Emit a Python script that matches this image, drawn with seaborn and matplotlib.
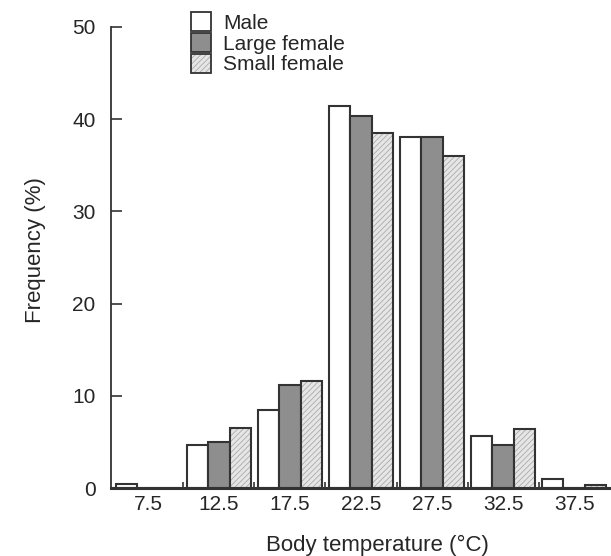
import numpy as np
import pandas as pd
import seaborn as sns
import matplotlib.pyplot as plt
from matplotlib.patches import Patch, Rectangle
from matplotlib.legend_handler import HandlerTuple

temps = ['7.5', '12.5', '17.5', '22.5', '27.5', '32.5', '37.5']
male = [0.4, 4.7, 8.5, 41.4, 38.1, 5.6, 1.0]
large_female = [0.0, 5.0, 11.2, 40.4, 38.1, 4.7, 0.0]
small_female = [0.0, 6.5, 11.6, 38.5, 36.0, 6.4, 0.3]
groups = ['Male', 'Large female', 'Small female']

df = pd.DataFrame({
    'temp': temps * 3,
    'freq': male + large_female + small_female,
    'group': np.repeat(groups, len(temps)),
})

sns.set_style('ticks')
plt.rcParams['font.family'] = ['Liberation Sans', 'DejaVu Sans']
plt.rcParams['hatch.linewidth'] = 0.6

edge = '#333333'
face = {'Male': 'white', 'Large female': '#8e8e8e', 'Small female': '#e6e6e6'}

fig = plt.figure(figsize=(6.11, 5.56), dpi=100)
ax = fig.add_axes([111 / 611, 1 - 488 / 556, 500 / 611, 461 / 556])

sns.barplot(data=df, x='temp', y='freq', hue='group', order=temps,
            hue_order=groups, palette=face, width=0.9, gap=0,
            edgecolor=edge, linewidth=1.5, saturation=1, legend=False, ax=ax)

# light hatching on the small-female bars, dark outline on top
for p in ax.containers[2]:
    p.set_hatch('//////')
    p.set_edgecolor('#aaaaaa')
    p.set_linewidth(0)
    ax.add_patch(Rectangle(p.get_xy(), p.get_width(), p.get_height(),
                           fill=False, edgecolor=edge, linewidth=1.5))

ax.set_xlim(-0.52, 6.52)
ax.set_ylim(0, 50)
ax.set_yticks([0, 10, 20, 30, 40, 50])
ax.set_xticks(range(len(temps)))
ax.set_xticklabels(temps)
ax.set_xticks(np.arange(0.5, 6, 1), minor=True)
ax.tick_params(axis='x', which='major', length=0, pad=5, labelsize=15)
ax.tick_params(axis='x', which='minor', direction='in', length=4, width=1.2, color=edge)
ax.tick_params(axis='y', direction='in', length=8, width=1.2, color=edge,
               pad=11, labelsize=15)

sns.despine(ax=ax)
ax.spines['left'].set_linewidth(1.3)
ax.spines['left'].set_color(edge)
ax.spines['bottom'].set_linewidth(2.2)
ax.spines['bottom'].set_color(edge)

ax.set_xlabel('Body temperature (°C)', fontsize=16)
ax.xaxis.set_label_coords((377 - 111) / 500, -(545 - 488) / 461, transform=ax.transAxes)
ax.xaxis.label.set_va('center')
ax.set_ylabel('Frequency (%)', fontsize=16)
ax.yaxis.set_label_coords(-(111 - 36) / 500, (488 - 250) / 461, transform=ax.transAxes)
ax.yaxis.label.set_va('center')

handles = [
    Patch(facecolor='white', edgecolor=edge, linewidth=1.3),
    Patch(facecolor='#8e8e8e', edgecolor=edge, linewidth=1.3),
    (Patch(facecolor='#e6e6e6', edgecolor='#aaaaaa', hatch='//////', linewidth=0),
     Patch(facecolor='none', edgecolor=edge, linewidth=1.3)),
]
ax.legend(handles, groups, loc='upper left', bbox_to_anchor=(191 / 611, 1 - 12 / 556),
          bbox_transform=fig.transFigure, frameon=False, fontsize=15,
          handlelength=0.95, handleheight=1.05, labelspacing=0, handletextpad=0.6,
          borderpad=0, borderaxespad=0,
          handler_map={tuple: HandlerTuple(ndivide=1)})

fig.savefig('out.png', dpi=100)
